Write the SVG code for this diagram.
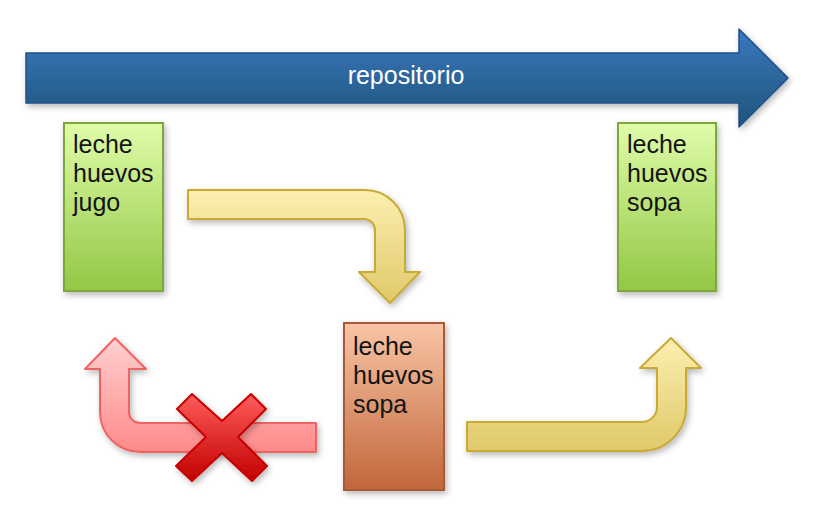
<svg xmlns="http://www.w3.org/2000/svg" width="814" height="520" viewBox="0 0 814 520">
<defs>
  <linearGradient id="gBlue" x1="0" y1="0" x2="0" y2="1">
    <stop offset="0" stop-color="#3a78c0"/>
    <stop offset="1" stop-color="#1f5479"/>
  </linearGradient>
  <linearGradient id="gGreen" x1="0" y1="0" x2="0" y2="1">
    <stop offset="0" stop-color="#dffca9"/>
    <stop offset="1" stop-color="#93c745"/>
  </linearGradient>
  <linearGradient id="gOrange" x1="0" y1="0" x2="0" y2="1">
    <stop offset="0" stop-color="#f9c5a6"/>
    <stop offset="1" stop-color="#c1663b"/>
  </linearGradient>
  <linearGradient id="gYellow" x1="0" y1="0" x2="0" y2="1">
    <stop offset="0" stop-color="#fcefb0"/>
    <stop offset="1" stop-color="#e0c96a"/>
  </linearGradient>
  <linearGradient id="gPink" x1="0" y1="0" x2="0" y2="1">
    <stop offset="0" stop-color="#ffd0d0"/>
    <stop offset="1" stop-color="#ff8a8a"/>
  </linearGradient>
  <linearGradient id="gRed" x1="0" y1="0" x2="0" y2="1">
    <stop offset="0" stop-color="#ff5c5c"/>
    <stop offset="1" stop-color="#c20000"/>
  </linearGradient>
  <filter id="sh" x="-20%" y="-20%" width="140%" height="140%">
    <feDropShadow dx="2" dy="3" stdDeviation="3" flood-color="#000" flood-opacity="0.28"/>
  </filter>
</defs>
<style>
  .box-green { fill: url(#gGreen); stroke: #7fa83b; stroke-width: 2; filter: url(#sh); }
  .box-orange { fill: url(#gOrange); stroke: #a85a35; stroke-width: 2; filter: url(#sh); }
  .txt { font-family: "Liberation Sans", Arial, sans-serif; font-size: 25px; fill: #141414; }
  .yellow { fill: url(#gYellow); stroke: #c9aa35; stroke-width: 2; stroke-linejoin: round; filter: url(#sh); }
  .pink { fill: url(#gPink); stroke: #f06464; stroke-width: 2; stroke-linejoin: round; filter: url(#sh); }
</style>

<g id="repositorio">
  <path d="M26,53 H739 V29 L788,78 L739,127 V103 H26 Z" fill="url(#gBlue)" stroke="#1f4f8a" stroke-width="1.5" stroke-linejoin="round" filter="url(#sh)"/>
  <text x="406" y="84" text-anchor="middle" font-family="Liberation Sans, Arial, sans-serif" font-size="25" fill="#ffffff">repositorio</text>
</g>

<g id="connectors">
  <path class="yellow" d="M188,190 H365 A40,40 0 0 1 405,230 V272 H420 L390,303 L359,272 H375 V230 A11,11 0 0 0 364,219 H188 Z"/>
  <path class="yellow" d="M467,422 H642 A15,15 0 0 0 657,407 V368 H640 L671,338 L701,368 H686 V407 A44,44 0 0 1 642,451 H467 Z"/>
  <path class="pink" d="M316,423 H140 A11,11 0 0 1 129,412 V369 H146 L115,338 L85,369 H100 V412 A40,40 0 0 0 140,452 H316 Z"/>
</g>

<g id="cross">
  <polygon points="222,421 251,394 266,409 238,437 267,466 252,481 222,453 192,481 176,466 206,437 177,409 192,394" fill="url(#gRed)" stroke="#c80000" stroke-width="2" stroke-linejoin="round" filter="url(#sh)"/>
</g>

<g id="node-jugo">
  <rect class="box-green" x="64" y="123" width="99" height="168"/>
  <text class="txt" x="73" y="153">leche</text>
  <text class="txt" x="73" y="182">huevos</text>
  <text class="txt" x="73" y="211">jugo</text>
</g>

<g id="node-sopa-repo">
  <rect class="box-green" x="618" y="123" width="98" height="168"/>
  <text class="txt" x="627" y="153">leche</text>
  <text class="txt" x="627" y="182">huevos</text>
  <text class="txt" x="627" y="211">sopa</text>
</g>

<g id="node-sopa-local">
  <rect class="box-orange" x="344" y="323" width="100" height="167"/>
  <text class="txt" x="353" y="355">leche</text>
  <text class="txt" x="353" y="384">huevos</text>
  <text class="txt" x="353" y="413">sopa</text>
</g>
</svg>
